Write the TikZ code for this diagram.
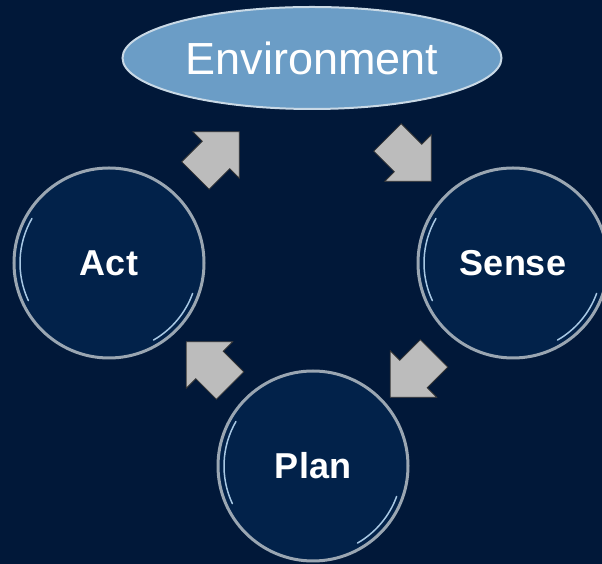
\documentclass[tikz,border=0pt]{standalone}
\usepackage{fontspec}
\setmainfont{Liberation Sans}
\usetikzlibrary{shapes.geometric,shapes.arrows,calc}
\definecolor{bgnavy}{HTML}{011839}
\definecolor{ballblue}{HTML}{02224A}
\definecolor{rimgray}{HTML}{9AA6B2}
\definecolor{glint}{HTML}{A8C8E4}
\definecolor{envblue}{HTML}{6B9DC6}
\definecolor{envrim}{HTML}{C9D9E6}
\definecolor{arrowgray}{HTML}{BCBCBC}

\begin{document}
\begin{tikzpicture}[x=1pt,y=1pt,
  ball/.style={circle, minimum size=190pt, fill=ballblue, draw=rimgray, line width=3pt,
    text=white, font=\fontsize{36}{40}\selectfont\bfseries},
  envnode/.style={ellipse, minimum width=379pt, minimum height=102pt, fill=envblue, draw=envrim,
    line width=2pt, text=white, font=\fontsize{45}{50}\selectfont},
  blockarrow/.style={single arrow, minimum height=62pt, minimum width=65pt, single arrow head extend=13.5pt,
    inner xsep=0pt, inner ysep=19pt, fill=arrowgray, draw=black!80, line width=0.8pt},
  shine/.style={glint, line width=1.5pt, line cap=round}]
\fill[bgnavy] (0,0) rectangle (602,564); %%Background
\useasboundingbox (0,0) rectangle (602,564);
\node[envnode] (env) at (312,506) {Environment}; %%Top
\node[ball] (act) at (109,301) {Act}; %%Left
\node[ball] (sense) at (513,301) {Sense}; %%Right
\node[ball] (plan) at (313,98) {Plan}; %%Bottom
\foreach \b in {act,sense,plan}{
  \draw[shine] ($(\b.center)+(150:89)$) arc (150:205:89); %%glass shine
  \draw[shine] ($(\b.center)+(-60:89)$) arc (-60:-20:89);
}
\node[blockarrow, rotate=45] (actenv) at ($(act)!.5!(env)$) {};
\node[blockarrow, rotate=-45] (envsense) at ($(env)!.5!(sense)+(-10,8)$) {};
\node[blockarrow, rotate=-135] (senseplan) at ($(sense)!.5!(plan)+(6,-4)$) {};
\node[blockarrow, rotate=135] (planact) at ($(plan)!.5!(act)+(4,-6)$) {};
\end{tikzpicture}
\end{document}
